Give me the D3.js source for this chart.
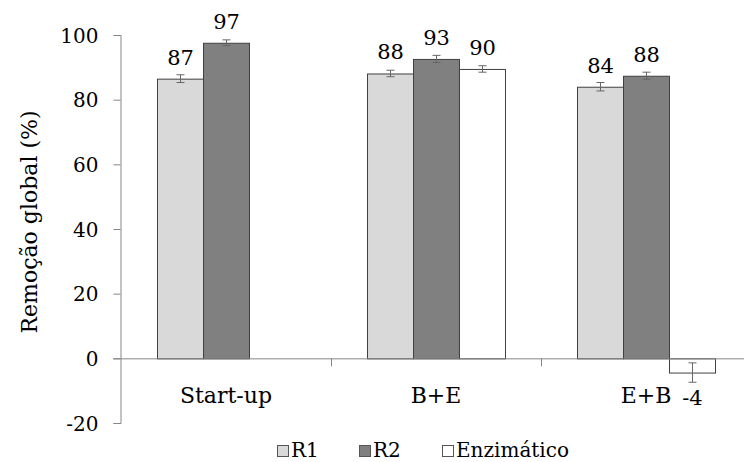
<!DOCTYPE html>
<html><head><meta charset="utf-8">
<script src="https://cdn.jsdelivr.net/npm/d3@7"></script>
<style>body{margin:0;background:#fff}svg{display:block}</style>
</head><body><div id="chart"></div>
<script>
const categories = ["Start-up", "B+E", "E+B"];
const seriesNames = ["R1", "R2", "Enzimático"];
const seriesColors = ["#d9d9d9", "#808080", "#ffffff"];
const r1Values = [86.5, 88.1, 84.0];
const r2Values = [97.6, 92.6, 87.4];
const enzValues = [null, 89.5, -4.4];
const r1Errors = [1.2, 1.0, 1.3];
const r2Errors = [0.9, 1.1, 1.1];
const enzErrors = [null, 1.0, 3.0];
const r1Labels = ["87", "88", "84"];
const r2Labels = ["97", "93", "88"];
const enzLabels = [null, "90", "-4"];
const yTicks = [-20, 0, 20, 40, 60, 80, 100];

const FONT = "'DejaVu Serif', serif";
const W = 744, H = 462;
const svg = d3.select("#chart").append("svg").attr("width", W).attr("height", H)
  .style("font-family", FONT);

function styleText(sel, size) {
  return sel.style("font-family", FONT).style("font-size", size + "px").style("fill", "#000");
}

const y = d3.scaleLinear().domain([-20, 100]).range([423, 35]);
const x = d3.scaleBand().domain(categories).range([121, 751]).padding(0);
const xs = d3.scaleBand().domain(seriesNames).range([0, x.bandwidth()]).paddingInner(0).paddingOuter(0.783);

const series = [
  {name: "R1", vals: r1Values, errs: r1Errors, labels: r1Labels, color: seriesColors[0]},
  {name: "R2", vals: r2Values, errs: r2Errors, labels: r2Labels, color: seriesColors[1]},
  {name: "Enzimático", vals: enzValues, errs: enzErrors, labels: enzLabels, color: seriesColors[2]}
];

// y axis
const yAxis = d3.axisLeft(y).tickValues(yTicks).tickSize(7).tickSizeOuter(7).tickPadding(15).tickFormat(d => String(d));
const yg = svg.append("g").attr("transform", "translate(120.5,0)").call(yAxis);
yg.attr("font-family", null).attr("font-size", null);
yg.selectAll("path,line").attr("stroke", "#868686");
styleText(yg.selectAll("text"), 20).attr("dy", "0.36em");

// bars
const gBars = svg.append("g");
series.forEach(s => {
  categories.forEach((c, i) => {
    const v = s.vals[i];
    if (v === null) return;
    const bx = x(c) + xs(s.name);
    const bw = xs.bandwidth();
    gBars.append("rect")
      .attr("x", bx + 0.5).attr("y", Math.min(y(v), y(0)) + 0.5)
      .attr("width", bw).attr("height", Math.abs(y(v) - y(0)))
      .attr("fill", s.color).attr("stroke", "#404040").attr("stroke-width", 1);
  });
});

// x axis
const xg = svg.append("g");
xg.append("line").attr("x1", 113).attr("x2", 751).attr("y1", y(0) + 0.5).attr("y2", y(0) + 0.5).attr("stroke", "#868686");
categories.slice(1).forEach(c => {
  xg.append("line").attr("x1", Math.round(x(c)) + 0.5).attr("x2", Math.round(x(c)) + 0.5)
    .attr("y1", y(0)).attr("y2", y(0) + 8).attr("stroke", "#868686");
});
categories.forEach(c => {
  styleText(xg.append("text").attr("x", x(c) + x.bandwidth() / 2).attr("y", 403)
    .attr("text-anchor", "middle"), 22).text(c);
});

// error bars and labels
series.forEach(s => {
  categories.forEach((c, i) => {
    const v = s.vals[i];
    if (v === null) return;
    const cx = Math.round(x(c) + xs(s.name) + xs.bandwidth() / 2) + 0.5;
    const e = s.errs[i];
    const g = svg.append("g").attr("stroke", "#666");
    g.append("line").attr("x1", cx).attr("x2", cx).attr("y1", y(v + e)).attr("y2", y(v - e));
    g.append("line").attr("x1", cx - 4).attr("x2", cx + 4).attr("y1", y(v + e)).attr("y2", y(v + e));
    g.append("line").attr("x1", cx - 4).attr("x2", cx + 4).attr("y1", y(v - e)).attr("y2", y(v - e));
    const ly = v >= 0 ? y(v) - 14 : y(v) + 32;
    styleText(svg.append("text").attr("x", cx).attr("y", ly).attr("text-anchor", "middle"), 21).text(s.labels[i]);
  });
});

// y title
styleText(svg.append("text").attr("transform", "translate(37,222) rotate(-90)")
  .attr("text-anchor", "middle"), 22).text("Remoção global (%)");

// legend
const legendX = [277, 359, 442];
series.forEach((s, i) => {
  const lg = svg.append("g").attr("transform", `translate(${legendX[i]},0)`);
  lg.append("rect").attr("x", 0.5).attr("y", 445.5).attr("width", 11).attr("height", 11)
    .attr("fill", s.color).attr("stroke", "#555");
  styleText(lg.append("text").attr("x", 14).attr("y", 457), 20).text(s.name);
});
</script></body></html>
